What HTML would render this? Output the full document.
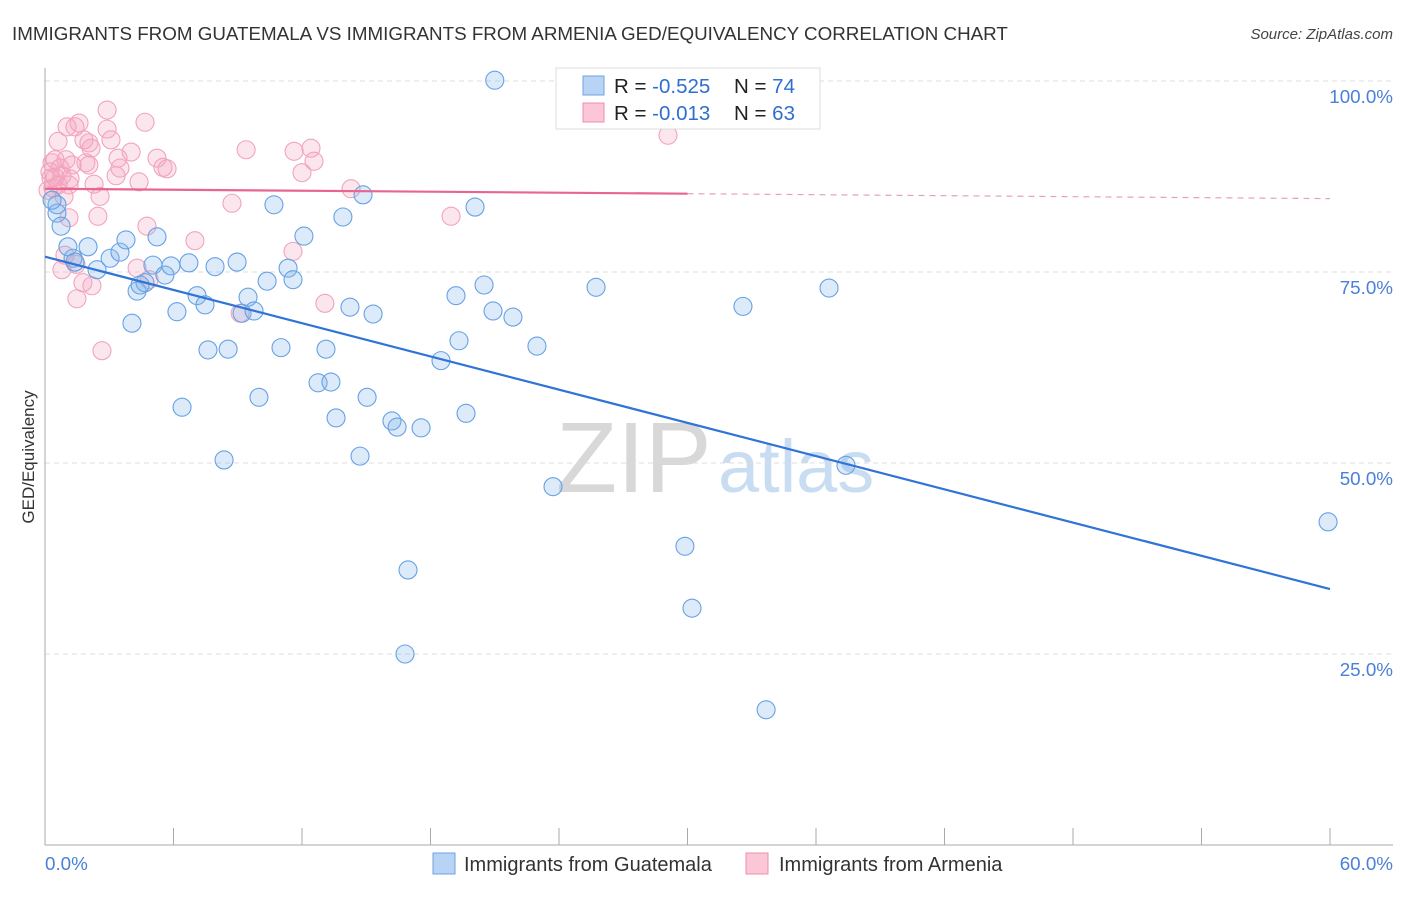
<!DOCTYPE html>
<html><head><meta charset="utf-8"><style>
body{margin:0;background:#fff;font-family:"Liberation Sans",sans-serif}
svg text{font-family:"Liberation Sans",sans-serif}
</style></head><body>
<svg id="chart" width="1406" height="892" xmlns="http://www.w3.org/2000/svg">
<text x="12" y="40" font-size="18.8" fill="#333">IMMIGRANTS FROM GUATEMALA VS IMMIGRANTS FROM ARMENIA GED/EQUIVALENCY CORRELATION CHART</text>
<text x="1393" y="39" font-size="15" fill="#444" font-style="italic" text-anchor="end">Source: ZipAtlas.com</text>
<g>
<text x="556" y="492" font-size="100" fill="#d8d8d8" font-family="Liberation Serif,serif">ZIP</text>
<text x="718" y="492" font-size="74" fill="#c8dcf2">atlas</text>
</g>
<g id="grid"></g>
<g id="axes"></g>
<g id="pts"></g>
<g id="trends"></g>
<text transform="translate(34,457) rotate(-90)" font-size="17" fill="#333" text-anchor="middle">GED/Equivalency</text>
<g>
<rect x="556" y="68" width="264" height="61" fill="#fff" stroke="#ddd"/>
<rect x="583" y="76" width="21" height="19" fill="#b9d3f5" stroke="#6aa3e6"/>
<rect x="583" y="103" width="21" height="19" fill="#fbc6d6" stroke="#ee8fae"/>
<text x="614" y="93" font-size="20.5" fill="#222">R = <tspan fill="#2f6fd0">-0.525</tspan><tspan x="734">N = </tspan><tspan fill="#2f6fd0">74</tspan></text>
<text x="614" y="120" font-size="20.5" fill="#222">R = <tspan fill="#2f6fd0"> -0.013</tspan><tspan x="734">N = </tspan><tspan fill="#2f6fd0">63</tspan></text>
</g>
<g>
<rect x="433" y="853" width="22" height="21" fill="#b9d3f5" stroke="#6aa3e6"/>
<text x="464" y="871" font-size="20" fill="#333">Immigrants from Guatemala</text>
</g>
<g>
<rect x="746" y="853" width="22" height="21" fill="#fbc6d6" stroke="#ee8fae"/>
<text x="779" y="871" font-size="20" fill="#333">Immigrants from Armenia</text>
</g>
</svg>
<script>
const blueX=[21.0,0.56,0.75,1.07,2.01,1.31,2.43,3.04,3.50,3.78,5.23,4.30,4.67,5.04,5.60,5.88,6.72,4.06,6.16,7.10,7.47,7.94,8.97,9.48,9.20,9.76,10.37,10.69,11.35,11.58,12.09,13.91,14.85,20.08,7.61,8.55,11.02,13.12,9.99,6.40,8.36,12.75,13.35,13.59,14.24,15.32,15.04,14.71,16.20,16.44,17.56,18.49,19.33,19.19,20.50,20.92,21.85,22.97,19.66,23.72,25.73,16.95,16.81,29.88,30.21,32.59,36.61,37.40,33.67,59.91,0.56,0.33,1.40,4.44];
const blueY=[100.1,82.7,81.0,78.3,78.3,76.8,75.3,76.8,77.6,79.2,79.6,72.5,73.6,75.9,74.6,75.8,76.2,68.3,69.8,71.9,70.7,75.7,76.3,71.7,69.6,69.9,73.8,83.8,75.5,74.0,79.7,82.2,85.1,83.5,64.8,64.9,65.1,64.9,58.6,57.3,50.4,60.5,60.6,55.9,70.4,69.5,58.6,50.9,55.5,54.7,54.6,63.4,66.0,71.9,73.3,69.9,69.1,65.3,56.5,46.9,73.0,36.0,25.0,39.1,31.0,70.5,72.9,49.7,17.7,42.3,83.8,84.4,76.3,73.3];
const pinkX=[2.90,4.67,1.03,1.40,1.59,2.90,0.61,2.05,2.15,4.02,3.41,5.23,5.51,5.70,3.32,4.39,9.39,11.63,12.42,12.56,12.00,29.09,14.29,18.96,0.33,0.47,0.70,0.98,1.26,1.91,2.05,0.23,0.47,0.79,1.17,0.37,0.61,1.12,2.29,2.57,0.89,2.47,1.12,4.76,8.73,7.00,11.58,0.93,1.45,0.79,4.30,4.86,1.77,2.19,1.49,13.07,9.11,2.66,0.28,0.14,3.50,1.82,3.08];
const pinkY=[96.2,94.6,94.0,94.0,94.5,93.7,92.1,91.9,91.2,90.7,89.9,89.9,88.7,88.5,87.6,86.8,91.0,90.8,91.2,89.5,88.0,92.9,85.9,82.3,89.3,89.7,88.6,89.7,89.0,89.3,89.0,88.1,87.4,87.6,87.2,86.0,86.4,86.4,86.5,84.9,84.9,82.3,82.1,81.0,84.0,79.1,77.7,77.2,76.0,75.3,75.5,74.0,73.6,73.2,71.5,70.9,69.6,64.7,87.3,85.7,88.6,92.3,92.3];
const blueTrend=[77.0,33.5];
const pinkTrend=[85.9,84.6];
const pinkSolidEnd=30;
const yTicks=[25,50,75,100];
const yTickLabels=["25.0%","50.0%","75.0%","100.0%"];
const xTicks=[0,6,12,18,24,30,36,42,48,54,60];

const NS="http://www.w3.org/2000/svg";
const X0=45,X1=1330,Y0=845,Y100=81;
const xs=v=>X0+(X1-X0)*v/60;
const ys=v=>Y0-(Y0-Y100)*v/100;
function mk(parent,tag,attrs){const e=document.createElementNS(NS,tag);for(const k in attrs)e.setAttribute(k,attrs[k]);document.getElementById(parent).appendChild(e);return e;}
yTicks.forEach((t,i)=>{
  const g=mk('grid','line',{x1:X0,x2:1393,y1:ys(t),y2:ys(t),stroke:'#ddd','stroke-dasharray':'5,4'});
  
  
  const l=mk('grid','text',{x:1393,y:ys(t)+22,'text-anchor':'end','font-size':'18.8',fill:'#4a80d8'});
  
  
  l.textContent=yTickLabels[i];
});
const ax=mk('axes','line',{x1:X0,x2:X0,y1:68,y2:Y0,stroke:'#aaa'});


const bx=mk('axes','line',{x1:X0,x2:1393,y1:Y0,y2:Y0,stroke:'#aaa'});


xTicks.forEach(t=>{
  const k=mk('axes','line',{x1:xs(t),x2:xs(t),y1:828,y2:Y0,stroke:'#aaa'});
  
  
});
const xl0=mk('axes','text',{x:45,y:870,'font-size':'18.8',fill:'#4a80d8'});


xl0.textContent='0.0%';
const xl1=mk('axes','text',{x:1393,y:870,'font-size':'18.8',fill:'#4a80d8','text-anchor':'end'});


xl1.textContent='60.0%';
pinkX.forEach((x,i)=>{
  const c=mk('pts','circle',{cx:xs(x),cy:ys(pinkY[i]),r:9,fill:'rgba(246,165,192,0.28)',stroke:'#f2a3bd','stroke-width':1.1});
  
  
});
blueX.forEach((x,i)=>{
  const c=mk('pts','circle',{cx:xs(x),cy:ys(blueY[i]),r:9,fill:'rgba(130,178,232,0.28)',stroke:'#66a2e4','stroke-width':1.1});
  
  
});
const bt=mk('trends','line',{x1:xs(0),y1:ys(blueTrend[0]),x2:xs(60),y2:ys(blueTrend[1]),stroke:'#2f74d6','stroke-width':2.2});


const pm=pinkTrend[0]+(pinkTrend[1]-pinkTrend[0])*pinkSolidEnd/60;
const pt=mk('trends','line',{x1:xs(0),y1:ys(pinkTrend[0]),x2:xs(pinkSolidEnd),y2:ys(pm),stroke:'#e8658f','stroke-width':2.2});


const pd=mk('trends','line',{x1:xs(pinkSolidEnd),y1:ys(pm),x2:xs(60),y2:ys(pinkTrend[1]),stroke:'#e8a0b8','stroke-width':1.2,'stroke-dasharray':'6,5'});


</script>
</body></html>
